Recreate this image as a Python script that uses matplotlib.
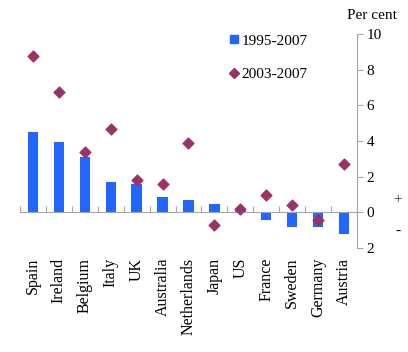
import matplotlib
matplotlib.use("Agg")
import matplotlib.pyplot as plt
import numpy as np
from matplotlib.lines import Line2D
import matplotlib.transforms as mtransforms

countries = ["Spain", "Ireland", "Belgium", "Italy", "UK", "Australia", "Netherlands",
             "Japan", "US", "France", "Sweden", "Germany", "Austria"]
p1995_2007 = [4.5, 3.95, 3.1, 1.7, 1.6, 0.85, 0.7, 0.5, 0.1, -0.4, -0.8, -0.8, -1.2]
p2003_2007 = [8.8, 6.75, 3.4, 4.7, 1.8, 1.6, 3.9, -0.7, 0.2, 1.0, 0.4, -0.4, 2.7]
yticks = [-2, 0, 2, 4, 6, 8, 10]

plt.rcParams['font.family'] = ['Liberation Serif', 'DejaVu Serif']
blue = "#2266FF"
maroon = "#993366"
grey = "#A6A6A6"

fig = plt.figure(figsize=(4.08, 3.52), dpi=100)
ax = fig.add_axes([0.049, 0.295, 0.826, 0.608])

x = np.arange(len(countries))
ax.bar(x, p1995_2007, width=0.4, color=blue, zorder=2)
ax.scatter(x, p2003_2007, marker="D", s=30, color=maroon, zorder=3)

ax.set_xlim(-0.5, len(countries) - 0.5)
ax.set_ylim(-2, 10)

# y axis on the right
ax.yaxis.tick_right()
ax.set_yticks(yticks)
ax.set_yticklabels([str(abs(v)) for v in yticks], fontsize=11)
ax.tick_params(axis="y", direction="out", length=4, color=grey, pad=3)
for s in ["left", "top"]:
    ax.spines[s].set_visible(False)
ax.spines["right"].set_color(grey)

# x axis at zero
ax.spines["bottom"].set_position(("data", 0))
ax.spines["bottom"].set_color(grey)
ax.set_xticks(np.arange(len(countries) + 1) - 0.5)
ax.tick_params(axis="x", direction="in", length=4, color=grey, labelbottom=False)

trans = mtransforms.blended_transform_factory(ax.transData, ax.transAxes)
for i, c in enumerate(countries):
    ax.text(i, -0.045, c, rotation=90, ha="center", va="top", fontsize=11.5, transform=trans)

handles = [Line2D([], [], ls="", marker="s", ms=6, color=blue),
           Line2D([], [], ls="", marker="D", ms=5, color=maroon)]
ax.legend(handles, ["1995-2007", "2003-2007"], loc="upper left", bbox_to_anchor=(0.575, 1.065),
          frameon=False, fontsize=11, handletextpad=0.1, handlelength=0.8, labelspacing=1.3)

ax.text(1.045, 1.085, "Per cent", transform=ax.transAxes, ha="center", va="center", fontsize=11)
ax.text(1.12, 0.225, "+", transform=ax.transAxes, ha="center", va="center", fontsize=11, color="#4B2040")
ax.text(1.12, 0.08, "-", transform=ax.transAxes, ha="center", va="center", fontsize=11)

fig.savefig("out.png", dpi=100)
